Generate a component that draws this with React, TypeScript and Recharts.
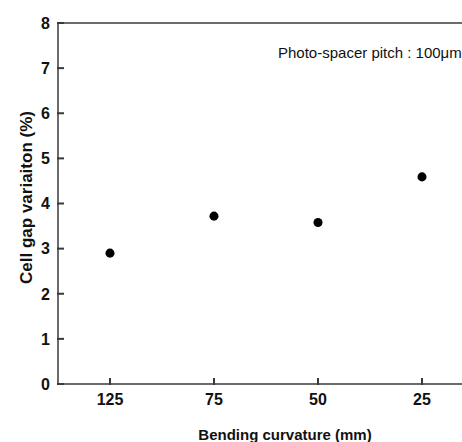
import React from "react";
import {
  ScatterChart,
  Scatter,
  XAxis,
  YAxis,
  ReferenceLine,
  Label,
} from "recharts";

// Bending curvature (mm) categories, left to right
const curvatures = ["125", "75", "50", "25"];
// Cell gap variation (%)
const gapVariation = [2.9, 3.72, 3.58, 4.59];
const yTicks = [0, 1, 2, 3, 4, 5, 6, 7, 8];

const data = curvatures.map((c, i) => ({ curvature: c, gap: gapVariation[i] }));

const AXIS = "#3a3a3a";
const FONT = "'Liberation Sans', Arial, sans-serif";
const TICK_LEN = 7;
const TICK_W = 2;
const Y_GAP = 8; // label end -> axis line
const X_GAP = 9; // axis line -> label top

// inward ticks: recharts only draws them outward, so draw mark + text here
function YTick(props: any) {
  const x = Number(props.x);
  const y = Number(props.y);
  return (
    <g>
      <text
        x={x}
        y={y}
        dy="0.36em"
        textAnchor="end"
        fontSize={16}
        fontWeight="bold"
        fontFamily={FONT}
        fill="#111"
      >
        {String(props.payload.value)}
      </text>
      <rect x={x + Y_GAP - 1} y={y - TICK_W / 2} width={TICK_LEN} height={TICK_W} fill={AXIS} />
    </g>
  );
}

function XTick(props: any) {
  const x = Number(props.x);
  const y = Number(props.y);
  return (
    <g>
      <text
        x={x}
        y={y}
        dy="0.72em"
        textAnchor="middle"
        fontSize={16}
        fontWeight="bold"
        fontFamily={FONT}
        fill="#111"
      >
        {String(props.payload.value)}
      </text>
      <rect
        x={x - TICK_W / 2}
        y={y - X_GAP - TICK_LEN + 1}
        width={TICK_W}
        height={TICK_LEN}
        fill={AXIS}
      />
    </g>
  );
}

export default function App() {
  return (
    <div
      style={{
        position: "absolute",
        left: 0,
        top: 0,
        width: 462,
        height: 442,
        overflow: "hidden",
        background: "#fff",
        fontFamily: FONT,
      }}
    >
      <ScatterChart
        width={480}
        height={442}
        margin={{ top: 23, right: 6, bottom: 0, left: 0 }}
      >
        <XAxis
          dataKey="curvature"
          type="category"
          allowDuplicatedCategory={false}
          height={58}
          stroke={AXIS}
          strokeWidth={1.5}
          tickLine={false}
          tickSize={0}
          tickMargin={X_GAP}
          tick={(p: any) => <XTick {...p} />}
        >
          <Label
            value="Bending curvature (mm)"
            position="insideBottom"
            offset={0}
            dx={19}
            dy={-2}
            style={{ fill: "#111", fontSize: 15, fontWeight: "bold", fontFamily: FONT }}
          />
        </XAxis>
        <YAxis
          dataKey="gap"
          type="number"
          domain={[0, 8]}
          ticks={yTicks}
          interval={0}
          width={58}
          stroke={AXIS}
          strokeWidth={1.5}
          tickLine={false}
          tickSize={0}
          tickMargin={Y_GAP}
          tick={(p: any) => <YTick {...p} />}
        >
          <Label
            value="Cell gap variaiton (%)"
            angle={-90}
            position="insideLeft"
            offset={0}
            dx={26}
            dy={-6}
            style={{
              fill: "#111",
              fontSize: 17,
              fontWeight: "bold",
              fontFamily: FONT,
              textAnchor: "middle",
            }}
          />
        </YAxis>
        <ReferenceLine y={8} stroke={AXIS} strokeWidth={1.5} />
        <Scatter
          data={data}
          fill="#000"
          shape="circle"
          isAnimationActive={false}
        />
        <text x={278} y={58} fontSize={15} fontFamily={FONT} fill="#111">
          Photo-spacer pitch : 100μm
        </text>
      </ScatterChart>
    </div>
  );
}
